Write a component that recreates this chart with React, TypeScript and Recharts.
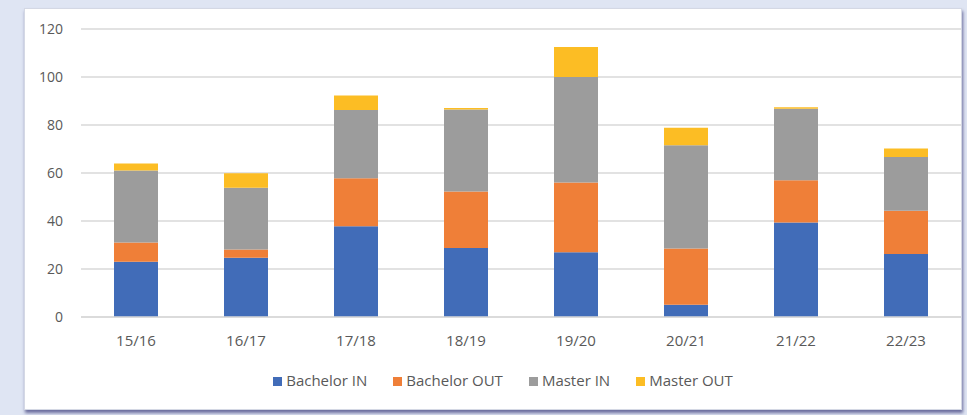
import React from "react";
import { BarChart, Bar, XAxis, YAxis, CartesianGrid, Legend } from "recharts";

const categories = ["15/16", "16/17", "17/18", "18/19", "19/20", "20/21", "21/22", "22/23"];
const bachelorIn = [23, 24.7, 37.8, 28.8, 27, 5.1, 39.4, 26.3];
const bachelorOut = [8, 3.4, 20, 23.5, 29, 23.4, 17.6, 18];
const masterIn = [30, 25.8, 28.5, 34.2, 44, 43.1, 29.8, 22.4];
const masterOut = [3, 6, 6, 0.6, 12.5, 7.3, 0.6, 3.5];
const yTicks = [0, 20, 40, 60, 80, 100, 120];

const data = categories.map((c, i) => ({
  year: c,
  bachelorIn: bachelorIn[i],
  bachelorOut: bachelorOut[i],
  masterIn: masterIn[i],
  masterOut: masterOut[i],
}));

const FONT = "'Open Sans', 'Noto Sans', sans-serif";
const TEXT = "#595959";

export default function App() {
  return (
    <div
      style={{
        position: "absolute",
        left: 0,
        top: 0,
        width: 967,
        height: 415,
        background: "#dfe5f3",
        overflow: "hidden",
        fontFamily: FONT,
      }}
    >
      <div
        style={{
          position: "absolute",
          left: 24,
          top: 8,
          width: 938,
          height: 402,
          background: "#ffffff",
          boxShadow: "1px 3px 3px rgba(70,70,130,0.75)",
          border: "1px solid #d4d8e4",
          boxSizing: "border-box",
        }}
      >
        <BarChart
          width={938}
          height={402}
          data={data}
          margin={{ top: 20, right: 2, left: 0, bottom: 21 }}
          barCategoryGap="30%"
        >
          <CartesianGrid vertical={false} stroke="#d9d9d9" strokeWidth={1.5} />
          <XAxis
            dataKey="year"
            tickLine={false}
            axisLine={{ stroke: "#d9d9d9", strokeWidth: 1.5 }}
            tick={{ fill: TEXT, fontSize: 15, fontFamily: FONT }}
            tickMargin={12}
            height={36}
          />
          <YAxis
            domain={[0, 120]}
            ticks={yTicks}
            tickLine={false}
            axisLine={false}
            width={56}
            tickMargin={12}
            tick={{ fill: TEXT, fontSize: 14, fontFamily: FONT }}
          />
          <Legend
            verticalAlign="bottom"
            align="center"
            iconType="square"
            iconSize={9}
            wrapperStyle={{ fontSize: 15, fontFamily: FONT, paddingTop: 17, paddingLeft: 23 }}
            formatter={(value: string) => (
              <span style={{ color: TEXT, marginRight: 16 }}>{value}</span>
            )}
          />
          <Bar dataKey="bachelorIn" name="Bachelor IN" stackId="a" fill="#416cb8" isAnimationActive={false} />
          <Bar dataKey="bachelorOut" name="Bachelor OUT" stackId="a" fill="#ef7f38" isAnimationActive={false} />
          <Bar dataKey="masterIn" name="Master IN" stackId="a" fill="#9c9c9c" isAnimationActive={false} />
          <Bar dataKey="masterOut" name="Master OUT" stackId="a" fill="#fcbd24" isAnimationActive={false} />
        </BarChart>
      </div>
    </div>
  );
}
